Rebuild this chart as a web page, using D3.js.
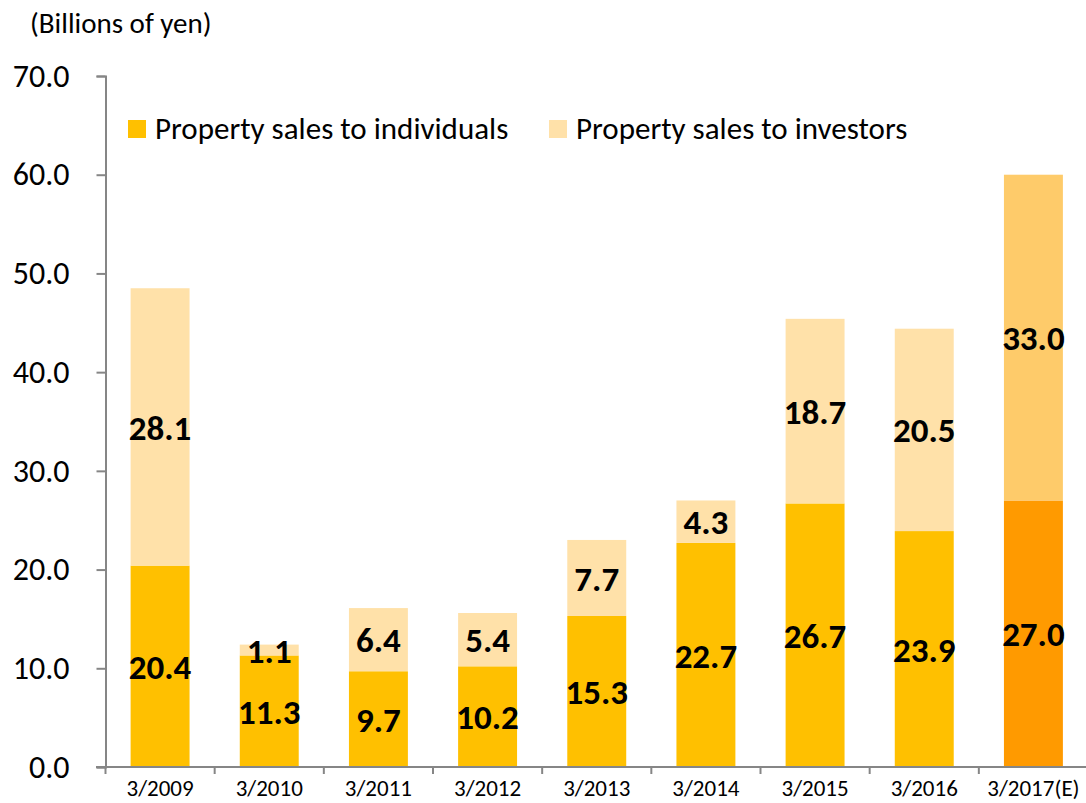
<!DOCTYPE html>
<html>
<head>
<meta charset="utf-8">
<script src="https://cdn.jsdelivr.net/npm/d3@7"></script>
<style>
  body { margin: 0; background: #fff; }
  text { font-family: Carlito, Lato, "Open Sans", sans-serif; }
</style>
</head>
<body>
<div id="chart"></div>
<script>
const categories = ["3/2009", "3/2010", "3/2011", "3/2012", "3/2013", "3/2014", "3/2015", "3/2016", "3/2017(E)"];
const individuals = [20.4, 11.3, 9.7, 10.2, 15.3, 22.7, 26.7, 23.9, 27.0];
const investors = [28.1, 1.1, 6.4, 5.4, 7.7, 4.3, 18.7, 20.5, 33.0];
const yTicks = [0, 10, 20, 30, 40, 50, 60, 70];
const seriesNames = ["Property sales to individuals", "Property sales to investors"];

const w = 1086, h = 803;

// last category is a forecast, drawn in stronger tones
const colors = {
	individuals: "#FFC000", investors: "#FFE1A9",
	individualsE: "#FF9A00", investorsE: "#FECB6A"
};

const svg = d3.select("#chart")
	.append("svg")
	.attr("width", w)
	.attr("height", h);

const xScale = d3.scaleBand()
	.domain(categories)
	.range([105.5, 1088])
	.paddingInner(0.46)
	.paddingOuter(0.23);

const yScale = d3.scaleLinear()
	.domain([0, 70])
	.range([767, 76]);

const stackData = categories.map((c, i) => ({cat: c, ind: individuals[i], inv: investors[i], est: i === categories.length - 1}));

// bars
const g = svg.append("g");
stackData.forEach(d => {
	g.append("rect")
		.attr("x", xScale(d.cat))
		.attr("width", xScale.bandwidth())
		.attr("y", yScale(d.ind))
		.attr("height", yScale(0) - yScale(d.ind))
		.attr("fill", d.est ? colors.individualsE : colors.individuals);
	g.append("rect")
		.attr("x", xScale(d.cat))
		.attr("width", xScale.bandwidth())
		.attr("y", yScale(d.ind + d.inv))
		.attr("height", yScale(d.ind) - yScale(d.ind + d.inv))
		.attr("fill", d.est ? colors.investorsE : colors.investors);
});

// value labels
stackData.forEach(d => {
	const cx = xScale(d.cat) + xScale.bandwidth() / 2;
	g.append("text")
		.attr("x", cx)
		.attr("y", yScale(d.ind / 2))
		.attr("dy", "0.36em")
		.attr("text-anchor", "middle")
		.attr("font-size", 35)
		.attr("font-weight", "bold")
		.attr("fill", "#000")
		.text(d.ind.toFixed(1));
	g.append("text")
		.attr("x", cx)
		.attr("y", yScale(d.ind + d.inv / 2))
		.attr("dy", "0.36em")
		.attr("text-anchor", "middle")
		.attr("font-size", 35)
		.attr("font-weight", "bold")
		.attr("fill", "#000")
		.text(d.inv.toFixed(1));
});

// y axis
const yAxis = d3.axisLeft(yScale)
	.tickValues(yTicks)
	.tickFormat(d3.format(".1f"))
	.tickSize(9)
	.tickSizeOuter(9)
	.tickPadding(27);
const yg = svg.append("g")
	.attr("transform", "translate(105.5,0)")
	.call(yAxis);
yg.selectAll("path, line").attr("stroke", "#868686").attr("stroke-width", 2);
yg.selectAll("text").attr("font-size", 32).attr("fill", "#000")
	.style("font-family", "Carlito, Lato, 'Open Sans', sans-serif");

// x axis with ticks between categories
const bounds = d3.range(categories.length + 1).map(i => 105.5 + i * (1088 - 105.5) / categories.length);
const xg = svg.append("g");
xg.append("line")
	.attr("x1", 96).attr("x2", 1088)
	.attr("y1", yScale(0)).attr("y2", yScale(0))
	.attr("stroke", "#868686").attr("stroke-width", 2);
xg.selectAll(".xt").data(bounds).join("line")
	.attr("x1", d => d).attr("x2", d => d)
	.attr("y1", yScale(0)).attr("y2", yScale(0) + 7)
	.attr("stroke", "#868686").attr("stroke-width", 2);
xg.selectAll(".xl").data(categories).join("text")
	.attr("x", d => xScale(d) + xScale.bandwidth() / 2)
	.attr("y", 796)
	.attr("text-anchor", "middle")
	.attr("font-size", 23)
	.attr("fill", "#000")
	.text(d => d);

// unit title
svg.append("text")
	.attr("x", 30)
	.attr("y", 33)
	.attr("font-size", 29)
	.attr("fill", "#000")
	.text("(Billions of yen)");

// legend
const legendX = [128, 549];
const legendColors = [colors.individuals, colors.investors];
seriesNames.forEach((name, i) => {
	svg.append("rect")
		.attr("x", legendX[i]).attr("y", 120)
		.attr("width", 18).attr("height", 18)
		.attr("fill", legendColors[i]);
	svg.append("text")
		.attr("x", legendX[i] + 27)
		.attr("y", 139)
		.attr("font-size", 31)
		.attr("fill", "#000")
		.text(name);
});
</script>
</body>
</html>
